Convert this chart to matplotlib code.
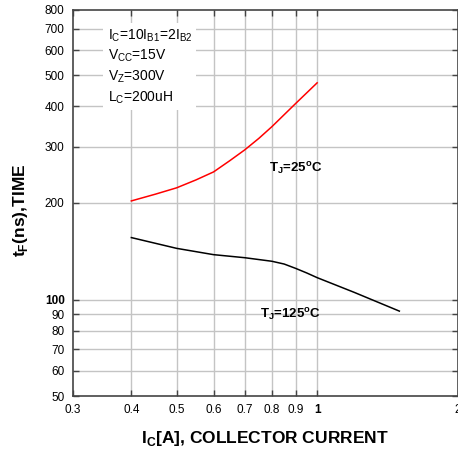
import numpy as np
import matplotlib.pyplot as plt
from matplotlib.ticker import FixedLocator, NullLocator

plt.rcParams['font.family'] = ['Liberation Sans', 'DejaVu Sans']

# data
ic_25 = [0.4, 0.45, 0.5, 0.55, 0.6, 0.65, 0.7, 0.75, 0.8, 0.9, 1.0]
tf_25 = [203, 213, 223, 236, 250, 271, 293, 318, 346, 409, 474]

ic_125 = [0.4, 0.5, 0.6, 0.7, 0.8, 0.85, 0.9, 0.95, 1.0, 1.2, 1.5]
tf_125 = [156, 144.4, 138, 135, 131.6, 129, 125, 121, 117, 105.3, 92]

x_ticks = [0.3, 0.4, 0.5, 0.6, 0.7, 0.8, 0.9, 1, 2]
x_tick_labels = ["0.3", "0.4", "0.5", "0.6", "0.7", "0.8", "0.9", "1", "2"]
y_ticks = [50, 60, 70, 80, 90, 100, 200, 300, 400, 500, 600, 700, 800]
y_tick_labels = [str(v) for v in y_ticks]
x_grid = [0.4, 0.5, 0.6, 0.7, 0.8, 0.9, 1]
y_grid = [60, 70, 80, 90, 100, 200, 300, 400, 500, 600, 700]

fig = plt.figure(figsize=(4.58, 4.53), dpi=100)
ax = fig.add_axes([0.1594, 0.1258, 0.9993 - 0.1594, 0.978 - 0.1258])

ax.set_xscale('log')
ax.set_yscale('log')
ax.set_xlim(0.3, 2)
ax.set_ylim(50, 800)

for gx in x_grid:
    ax.axvline(gx, color='#c4c4c4', lw=1.0, zorder=1)
for gy in y_grid:
    ax.axhline(gy, color='#c4c4c4', lw=1.0, zorder=1)

ax.plot(ic_25, tf_25, color='#ff0000', lw=1.1, zorder=3)
ax.plot(ic_125, tf_125, color='black', lw=1.1, zorder=3)

ax.xaxis.set_major_locator(FixedLocator(x_ticks))
ax.xaxis.set_minor_locator(NullLocator())
ax.set_xticklabels(x_tick_labels)
ax.yaxis.set_major_locator(FixedLocator(y_ticks))
ax.yaxis.set_minor_locator(NullLocator())
ax.set_yticklabels(y_tick_labels)
for lab in ax.get_xticklabels():
    if lab.get_text() == "1":
        lab.set_fontweight('bold')
for lab in ax.get_yticklabels():
    if lab.get_text() == "100":
        lab.set_fontweight('bold')

ax.tick_params(which='both', direction='in', length=4, width=1, color='#444444',
               labelsize=8.5, top=True, right=True)
ax.tick_params(axis='x', pad=6)
ax.tick_params(axis='y', pad=6)
for s in ax.spines.values():
    s.set_color('#444444')
    s.set_linewidth(1.2)

ax.set_xlabel(r'I$_\mathregular{C}$[A], COLLECTOR CURRENT', fontsize=12.5, fontweight='bold', labelpad=9)
ax.set_ylabel(r't$_\mathregular{F}$(ns),TIME', fontsize=12.5, fontweight='bold')
ax.yaxis.set_label_coords(-0.112, 0.48)

cond = (r'I$_\mathregular{C}$=10I$_\mathregular{B1}$=2I$_\mathregular{B2}$' + '\n'
        r'V$_\mathregular{CC}$=15V' + '\n'
        r'V$_\mathregular{Z}$=300V' + '\n'
        r'L$_\mathregular{C}$=200uH')
ax.text(0.09, 0.955, cond, transform=ax.transAxes, fontsize=10, va='top', ha='left',
        linespacing=1.35, zorder=4,
        bbox=dict(facecolor='white', edgecolor='none', pad=3))

ax.text(0.51, 0.587, r'T$_\mathregular{J}$=25$^\mathregular{o}$C', transform=ax.transAxes,
        fontsize=9.5, fontweight='bold', va='center', ha='left', zorder=4)
ax.text(0.485, 0.21, r'T$_\mathregular{J}$=125$^\mathregular{o}$C', transform=ax.transAxes,
        fontsize=9.5, fontweight='bold', va='center', ha='left', zorder=4)

fig.savefig('out.png', dpi=100)
